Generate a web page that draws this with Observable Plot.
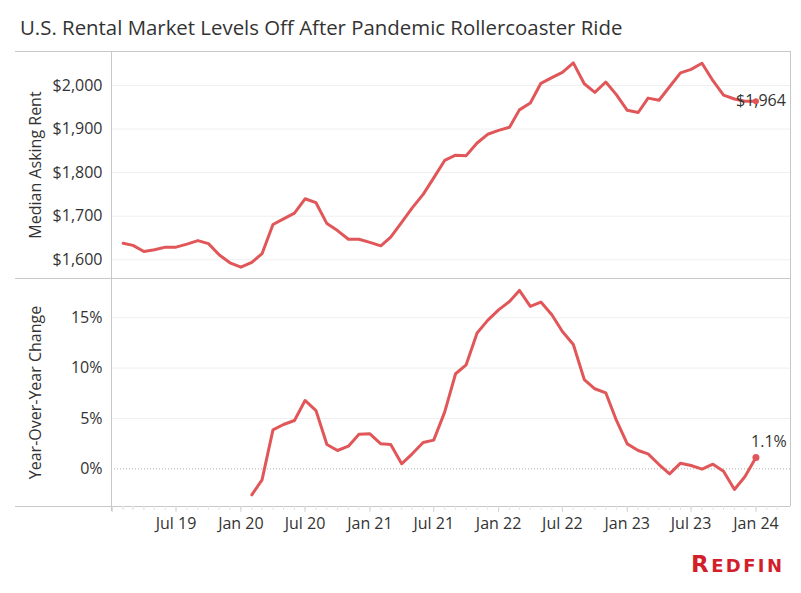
<!DOCTYPE html>
<html>
<head>
<meta charset="utf-8">
<script src="https://cdn.jsdelivr.net/npm/d3@7"></script>
<script src="https://cdn.jsdelivr.net/npm/@observablehq/plot@0.6"></script>
<style>
  html, body { margin: 0; padding: 0; background: #fff; }
  #wrap { position: relative; width: 801px; height: 593px; overflow: hidden; background: #fff; }
  #title { position: absolute; left: 20px; top: 15px; font-family: "Open Sans", sans-serif; font-size: 20.4px; line-height: 24px; color: #333; white-space: nowrap; }
  #logo { position: absolute; left: 691px; top: 552px; font-family: "DejaVu Sans", sans-serif; font-weight: bold; color: #d21f2b; letter-spacing: 2.4px; line-height: 24px; white-space: nowrap; }
  #p1, #p2 { position: absolute; left: 0; }
  #p1 { top: 41px; }
  #p2 { top: 268px; }
</style>
</head>
<body>
<div id="wrap">
  <div id="title">U.S. Rental Market Levels Off After Pandemic Rollercoaster Ride</div>
  <div id="p1"></div>
  <div id="p2"></div>
  <div id="logo"><span style="font-size:23px">R</span><span style="font-size:18px">EDFIN</span></div>
</div>
<script>
// ---- Data ----
const months = [
  "2019-02","2019-03","2019-04","2019-05","2019-06","2019-07","2019-08","2019-09","2019-10","2019-11","2019-12",
  "2020-01","2020-02","2020-03","2020-04","2020-05","2020-06","2020-07","2020-08","2020-09","2020-10","2020-11","2020-12",
  "2021-01","2021-02","2021-03","2021-04","2021-05","2021-06","2021-07","2021-08","2021-09","2021-10","2021-11","2021-12",
  "2022-01","2022-02","2022-03","2022-04","2022-05","2022-06","2022-07","2022-08","2022-09","2022-10","2022-11","2022-12",
  "2023-01","2023-02","2023-03","2023-04","2023-05","2023-06","2023-07","2023-08","2023-09","2023-10","2023-11","2023-12",
  "2024-01"
];
const medianRent = [
  1638,1633,1619,1623,1629,1629,1636,1644,1637,1611,1593,
  1583,1594,1614,1681,1694,1707,1740,1731,1683,1667,1647,1647,
  1640,1632,1652,1686,1719,1750,1788,1828,1840,1839,1868,1888,
  1897,1904,1944,1960,2005,2018,2030,2052,2004,1984,2008,1979,
  1943,1938,1971,1966,1997,2029,2037,2051,2011,1978,1969,1964,
  1964
];
// year-over-year change (%), starts Feb 2020
const yoyMonths = months.slice(12);
const yoyChange = [
  -2.58,-1.09,3.87,4.40,4.80,6.79,5.79,2.42,1.82,2.25,3.44,
  3.48,2.48,2.42,0.50,1.49,2.62,2.85,5.63,9.44,10.33,13.48,14.74,
  15.79,16.62,17.72,16.13,16.56,15.30,13.64,12.35,8.87,7.95,7.55,4.83,
  2.48,1.82,1.49,0.43,-0.50,0.56,0.33,-0.03,0.46,-0.23,-2.05,-0.76,
  1.13
];
const rentTicks = [1600, 1700, 1800, 1900, 2000];
const yoyTicks = [0, 5, 10, 15];
const xLabelTicks = ["2019-07","2020-01","2020-07","2021-01","2021-07","2022-01","2022-07","2023-01","2023-07","2024-01"];
const xMajorTicks = ["2019-01", ...xLabelTicks];
const xMinorTicks = ["2019-01","2019-02","2019-03","2019-04","2019-05","2019-06", ...months, "2024-02","2024-03"];
const rentDomain = [1557, 2078];
const yoyDomain = [-3.74, 18.9];
const xDomain = [new Date("2018-12-30"), new Date("2024-04-08")];

// ---- Build ----
const toDate = m => new Date(m + "-01");
const rentData = months.map((m, i) => ({date: toDate(m), value: medianRent[i]}));
const yoyData = yoyMonths.map((m, i) => ({date: toDate(m), value: yoyChange[i]}));
const red = "#e15759";
const frameColor = "#c8c8c8";
const gridColor = "#efefef";
const textColor = "#333";
const FONT = "Open Sans";
const FS = 16;
const baseStyle = {background: "transparent", overflow: "visible", fontFamily: FONT, fontSize: FS + "px", color: textColor};
const txt = {fill: textColor, fontSize: FS, fontFamily: FONT};

const p1 = Plot.plot({
  width: 801, height: 247,
  marginTop: 10, marginBottom: 10, marginLeft: 111, marginRight: 11,
  style: baseStyle,
  x: {type: "utc", domain: xDomain, axis: null},
  y: {domain: rentDomain},
  marks: [
    Plot.ruleY(rentTicks, {stroke: gridColor}),
    Plot.ruleY([rentDomain[1]], {stroke: frameColor, insetLeft: -96}),
    Plot.ruleY([rentDomain[0]], {stroke: frameColor, insetLeft: -96}),
    Plot.ruleX([xDomain[0], xDomain[1]], {stroke: frameColor}),
    Plot.lineY(rentData, {x: "date", y: "value", stroke: red, strokeWidth: 3}),
    Plot.dot(rentData.slice(-1), {x: "date", y: "value", r: 3, fill: red}),
    Plot.text(rentData.slice(-1), {x: "date", y: "value", text: d => "$" + d3.format(",")(d.value), dx: 5, dy: 0, ...txt}),
    Plot.axisY({ticks: rentTicks, tickFormat: d => "$" + d3.format(",")(d), tickSize: 0, tickPadding: 9, label: null, ...txt}),
    Plot.text(["Median Asking Rent"], {text: d => d, frameAnchor: "left", dx: -76, rotate: -90, textAnchor: "middle", ...txt})
  ]
});
document.getElementById("p1").appendChild(p1);

const p2 = Plot.plot({
  width: 801, height: 272,
  marginTop: 10, marginBottom: 34, marginLeft: 111, marginRight: 11,
  style: baseStyle,
  x: {type: "utc", domain: xDomain},
  y: {domain: yoyDomain},
  marks: [
    Plot.ruleY(yoyTicks.filter(d => d !== 0), {stroke: gridColor}),
    Plot.ruleY([0], {stroke: "#b0b0b0", strokeDasharray: "1,2"}),
    Plot.ruleY([yoyDomain[1]], {stroke: frameColor, insetLeft: -96}),
    Plot.ruleY([yoyDomain[0]], {stroke: frameColor, insetLeft: -96}),
    Plot.ruleX(xMinorTicks.map(toDate), {x: d => d, y1: yoyDomain[0], y2: yoyDomain[0], insetBottom: -4, stroke: "#e6e6e6"}),
    Plot.ruleX(xMajorTicks.map(toDate), {x: d => d, y1: yoyDomain[0], y2: yoyDomain[0], insetBottom: -6, stroke: "#d4d4d4"}),
    Plot.ruleX([xDomain[0]], {stroke: frameColor, insetBottom: -5}),
    Plot.ruleX([xDomain[1]], {stroke: frameColor}),
    Plot.lineY(yoyData, {x: "date", y: "value", stroke: red, strokeWidth: 3}),
    Plot.dot(yoyData.slice(-1), {x: "date", y: "value", r: 3.5, fill: red}),
    Plot.text(yoyData.slice(-1), {x: "date", y: "value", text: d => d3.format(".1f")(d.value) + "%", dx: 13, dy: -16, ...txt}),
    Plot.axisY({ticks: yoyTicks, tickFormat: d => d + "%", tickSize: 0, tickPadding: 9, label: null, ...txt}),
    Plot.axisX({ticks: xLabelTicks.map(toDate), tickFormat: d3.utcFormat("%b %y"), tickSize: 0, tickPadding: 11, label: null, ...txt}),
    Plot.text(["Year-Over-Year Change"], {text: d => d, frameAnchor: "left", dx: -76, rotate: -90, textAnchor: "middle", ...txt})
  ]
});
document.getElementById("p2").appendChild(p2);
</script>
</body>
</html>
